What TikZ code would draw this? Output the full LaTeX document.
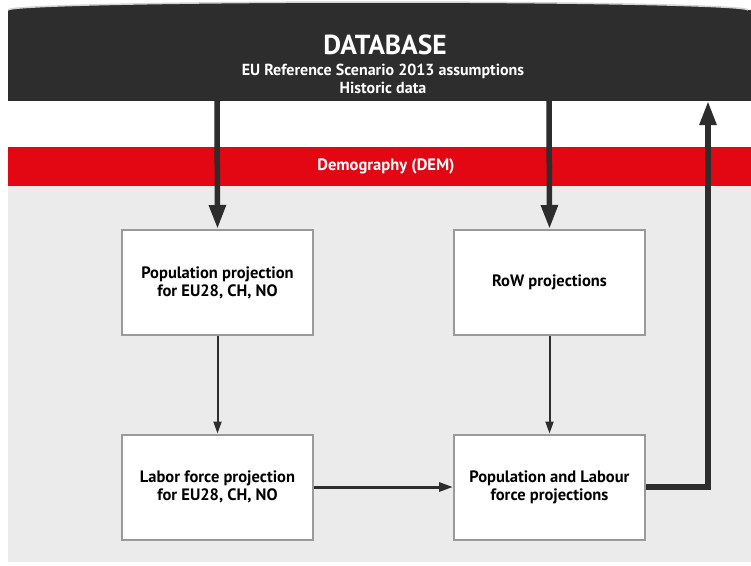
\documentclass[tikz,border=0pt]{standalone}
\usepackage{fontspec}
\setmainfont{PT Sans}
\usetikzlibrary{arrows.meta}
\definecolor{dbdark}{HTML}{2D2D2D}
\definecolor{demred}{HTML}{E30613}
\definecolor{bggray}{HTML}{EBEBEB}
\definecolor{boxline}{HTML}{9A9A9A}
\tikzset{
  projbox/.style={draw=boxline, line width=2pt, fill=white, minimum width=191pt, minimum height=105pt, align=center, font=\fontsize{16.5}{18}\selectfont\bfseries, inner sep=0pt},
  thickarrow/.style={draw=dbdark, line width=5.5pt, -{Triangle[width=16pt,length=24pt]}},
  thinarrow/.style={draw=dbdark, line width=2pt, -{Triangle[width=8pt,length=12pt]}},
  thickline/.style={draw=dbdark, line width=6pt}
}
\begin{document}
\begin{tikzpicture}[x=1pt,y=-1pt]
\useasboundingbox (0,0) rectangle (751,565);
\fill[white] (0,0) rectangle (751,565);
% background gray area
\fill[bggray] (8,186) rectangle (751,562);
% database cylinder
\fill[dbdark] (8,10) rectangle (751,101);
\fill[dbdark] (378,10) ellipse [x radius=370, y radius=8];
\draw[gray!35, line width=1.5pt] (8,10) arc [start angle=180, end angle=360, x radius=370, y radius=8];
\node[text=white, font=\fontsize{27.5}{30}\selectfont\bfseries] (db) at (385,45) {DATABASE};
\node[text=white, font=\fontsize{16}{18}\selectfont\bfseries, align=center] (dbsub) at (383,79) {EU Reference Scenario 2013 assumptions\\Historic data};
\coordinate (dbL) at (217,101);
\coordinate (dbR) at (549,101);
\coordinate (dbUp) at (708,101);
% demography band
\fill[demred] (8,147) rectangle (751,186);
\node[text=white, font=\fontsize{16.5}{18}\selectfont\bfseries] (dem) at (386,166) {Demography (DEM)};
% boxes
\node[projbox] (pop) at (217.5,282.5) {Population projection\\for EU28, CH, NO};
\node[projbox] (row) at (549.5,282.5) {RoW projections};
\node[projbox] (lab) at (217.5,487) {Labor force projection\\for EU28, CH, NO};
\node[projbox] (poplab) at (549.5,487) {Population and Labour\\force projections};
% arrows
\draw[thickarrow] (dbL) -- (pop.north);
\draw[thickarrow] (dbR) -- (row.north);
\draw[thinarrow] (pop.south) -- (lab.north);
\draw[thinarrow] (row.south) -- (poplab.north);
\draw[draw=dbdark, line width=3pt, -{Triangle[width=9pt,length=14pt]}] (lab.east) -- (poplab.west);
\draw[thickline, line cap=butt] (poplab.east) -- (708,487) -- (708,140);
\draw[thickarrow] (708,142) -- (dbUp);
\end{tikzpicture}
\end{document}
